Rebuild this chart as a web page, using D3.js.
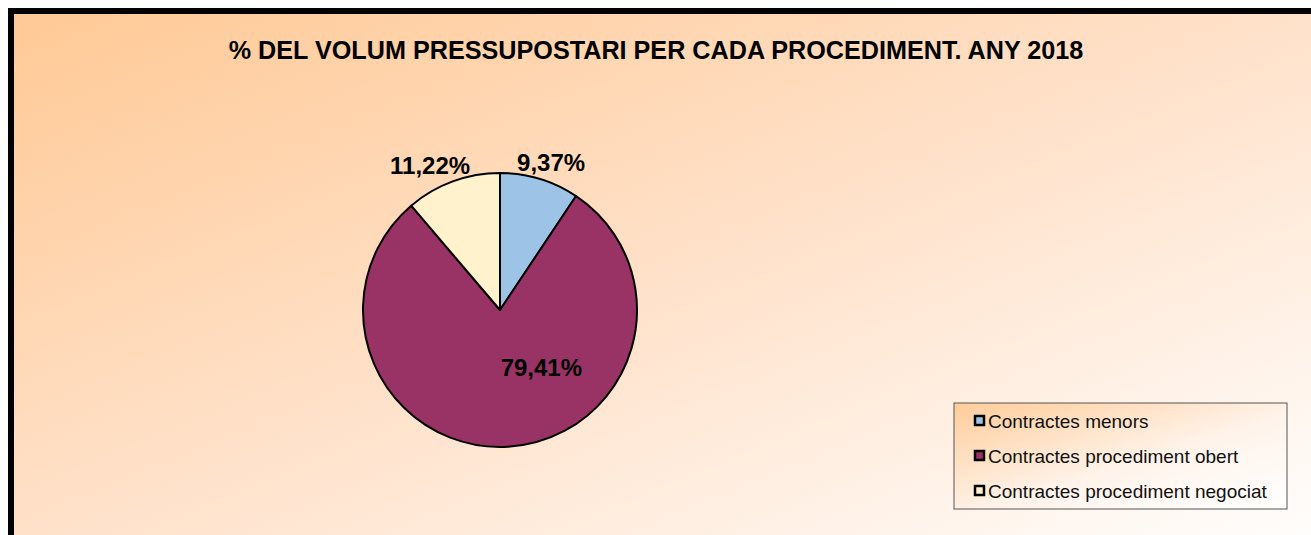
<!DOCTYPE html>
<html>
<head>
<meta charset="utf-8">
<script src="https://cdn.jsdelivr.net/npm/d3@7/dist/d3.min.js"></script>
<style>
  body { margin: 0; background: #fff; }
  text { font-family: Arial, "Liberation Sans", sans-serif; }
</style>
</head>
<body>
<svg id="chart"></svg>
<script>
const categories = ['Contractes menors', 'Contractes procediment obert', 'Contractes procediment negociat'];
const shares = [9.37, 79.41, 11.22];
const shareLabels = ['9,37%', '79,41%', '11,22%'];
const title = '% DEL VOLUM PRESSUPOSTARI PER CADA PROCEDIMENT. ANY 2018';

const width = 1311;
const height = 535;
const radius = 137;

const svg = d3.select('#chart')
  .attr('width', width)
  .attr('height', height);

const defs = svg.append('defs');
const bg = defs.append('linearGradient')
  .attr('id', 'bg')
  .attr('x1', 0).attr('y1', 0).attr('x2', 1).attr('y2', 1);
bg.append('stop').attr('offset', '0%').attr('stop-color', '#ffc995');
bg.append('stop').attr('offset', '50%').attr('stop-color', '#ffe2cb');
bg.append('stop').attr('offset', '100%').attr('stop-color', '#ffffff');

const lg = defs.append('linearGradient')
  .attr('id', 'lg')
  .attr('x1', 0).attr('y1', 0).attr('x2', 1).attr('y2', 1);
lg.append('stop').attr('offset', '0%').attr('stop-color', '#ffcc99');
lg.append('stop').attr('offset', '55%').attr('stop-color', '#fff3ea');
lg.append('stop').attr('offset', '100%').attr('stop-color', '#ffffff');

// chart area (runs past the right and bottom edges)
svg.append('rect')
  .attr('x', 11).attr('y', 11)
  .attr('width', 1330).attr('height', 550)
  .attr('fill', 'url(#bg)')
  .attr('stroke', '#000')
  .attr('stroke-width', 6);

svg.append('text')
  .attr('x', 656).attr('y', 59)
  .attr('text-anchor', 'middle')
  .attr('font-size', 25.2)
  .attr('font-weight', 'bold')
  .text(title);

const color = d3.scaleOrdinal()
  .domain(categories)
  .range(['#9dc3e6', '#993366', '#fff2cc']);

const pie = d3.pie()
  .sort(null)
  .value(d => d.value);

const data = categories.map((c, i) => ({ name: c, value: shares[i], label: shareLabels[i] }));
const arcs = pie(data);

const arc = d3.arc().innerRadius(0).outerRadius(radius);
const outerLabel = d3.arc().innerRadius(radius + 22).outerRadius(radius + 22);
const innerLabel = d3.arc().innerRadius(radius * 0.42).outerRadius(radius * 0.42);

const g = svg.append('g')
  .attr('transform', 'translate(500,310)');

g.selectAll('path')
  .data(arcs)
  .enter()
  .append('path')
  .attr('d', arc)
  .attr('fill', d => color(d.data.name))
  .attr('stroke', '#000')
  .attr('stroke-width', 2)
  .attr('stroke-linejoin', 'round');

g.selectAll('text.lbl')
  .data(arcs)
  .enter()
  .append('text')
  .attr('class', 'lbl')
  .attr('transform', d => {
    const big = d.value > 50;
    const p = big ? innerLabel.centroid(d) : outerLabel.centroid(d);
    const dx = big ? 38 : (p[0] < 0 ? -15 : 5);
    const dy = big ? 0 : 5;
    return `translate(${p[0] + dx},${p[1] + dy})`;
  })
  .attr('dy', '0.35em')
  .attr('text-anchor', 'middle')
  .attr('font-size', 24)
  .attr('font-weight', 'bold')
  .text(d => d.data.label);

// legend
const legend = svg.append('g')
  .attr('transform', 'translate(954,403)');

legend.append('rect')
  .attr('width', 333).attr('height', 106)
  .attr('fill', 'url(#lg)')
  .attr('stroke', '#555')
  .attr('stroke-width', 1);

const item = legend.selectAll('g.item')
  .data(categories)
  .enter()
  .append('g')
  .attr('class', 'item')
  .attr('transform', (d, i) => `translate(21,${18 + i * 35})`);

item.append('rect')
  .attr('x', 0).attr('y', -5)
  .attr('width', 9).attr('height', 9)
  .attr('fill', d => color(d))
  .attr('stroke', '#000')
  .attr('stroke-width', 2.5);

item.append('text')
  .attr('x', 13).attr('y', 0)
  .attr('dy', '0.35em')
  .attr('font-size', 19)
  .attr('fill', '#111')
  .text(d => d);
</script>
</body>
</html>
